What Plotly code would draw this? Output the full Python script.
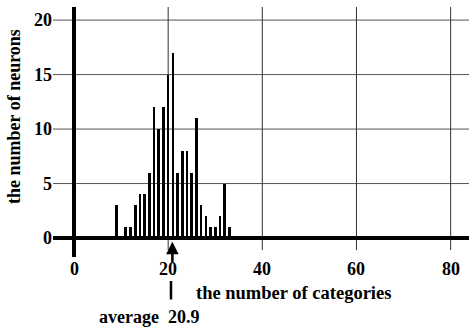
import plotly.graph_objects as go

categories = [9, 11, 12, 13, 14, 15, 16, 17, 18, 19, 20, 21, 22, 23, 24, 25, 26, 27, 28, 29, 30, 31, 32, 33]
neurons = [3, 1, 1, 3, 4, 4, 6, 12, 10, 12, 15, 17, 6, 8, 8, 6, 11, 3, 2, 1, 1, 2, 5, 1]
x_ticks = [0, 20, 40, 60, 80]
y_ticks = [0, 5, 10, 15, 20]
average = 20.9

X_RANGE = [-4.46, 83.9]
Y_RANGE = [-1.74, 21.2]
FONT = "Liberation Serif, Times New Roman, serif"

fig = go.Figure()
fig.add_trace(go.Bar(x=categories, y=neurons, width=0.55,
                     marker=dict(color="black", line=dict(width=0)),
                     showlegend=False, hoverinfo="skip"))

shapes = []
for v in y_ticks[1:]:
    shapes.append(dict(type="line", xref="x", yref="y", x0=X_RANGE[0], x1=X_RANGE[1],
                       y0=v, y1=v, line=dict(color="#555", width=1), layer="below"))
for v in x_ticks[1:]:
    shapes.append(dict(type="line", xref="x", yref="y", x0=v, x1=v,
                       y0=-1.1, y1=Y_RANGE[1], line=dict(color="#333", width=1), layer="below"))
shapes.append(dict(type="line", xref="x", yref="y", x0=X_RANGE[0], x1=X_RANGE[1],
                   y0=0, y1=0, line=dict(color="black", width=4)))
shapes.append(dict(type="line", xref="x", yref="y", x0=0, x1=0,
                   y0=Y_RANGE[0], y1=Y_RANGE[1], line=dict(color="black", width=4)))

annotations = []
for v in x_ticks:
    annotations.append(dict(text=str(v), x=v, xref="x", y=0, yref="paper",
                            xanchor="center", yanchor="middle", yshift=-12,
                            showarrow=False, borderpad=0,
                            font=dict(family=FONT, size=18, color="black", weight="bold")))
annotations += [
    dict(text="the number of neurons", xref="paper", yref="paper", x=0, y=0.56,
         xanchor="center", xshift=-39, textangle=-90, showarrow=False,
         font=dict(family=FONT, size=18, color="black", weight="bold")),
    dict(text="the number of categories", xref="paper", yref="paper", x=0.341, y=0,
         xanchor="left", yanchor="middle", yshift=-36, showarrow=False, borderpad=0,
         font=dict(family=FONT, size=18.5, color="black", weight="bold")),
    dict(text="average  " + str(average), xref="paper", yref="paper", x=0.108, y=0,
         xanchor="left", yanchor="middle", yshift=-60, showarrow=False, borderpad=0,
         font=dict(family=FONT, size=18, color="black", weight="bold")),
    dict(text="", x=average, y=-0.35, xref="x", yref="y", showarrow=True,
         ax=0, ay=22, arrowhead=2, arrowsize=1, arrowwidth=2.5, arrowcolor="black"),
    dict(text="", x=20.6, y=0, xref="x", yref="paper", yshift=-24, showarrow=True,
         ax=0, ay=20, arrowhead=0, arrowwidth=2.5, arrowcolor="black"),
]

fig.update_layout(
    width=469, height=329,
    margin=dict(l=53, r=0, t=7, b=72),
    paper_bgcolor="white", plot_bgcolor="white",
    shapes=shapes, annotations=annotations,
    xaxis=dict(range=X_RANGE, showticklabels=False,
               showgrid=False, zeroline=False, showline=False, ticks=""),
    yaxis=dict(range=Y_RANGE, tickvals=y_ticks, ticktext=[str(v) for v in y_ticks],
               showgrid=False, zeroline=False, showline=False, ticks="",
               tickfont=dict(family=FONT, size=18, color="black", weight="bold")),
    bargap=0,
)

fig.write_html("out.html", config={"displayModeBar": False},
               post_script="document.body.style.margin='0';")
